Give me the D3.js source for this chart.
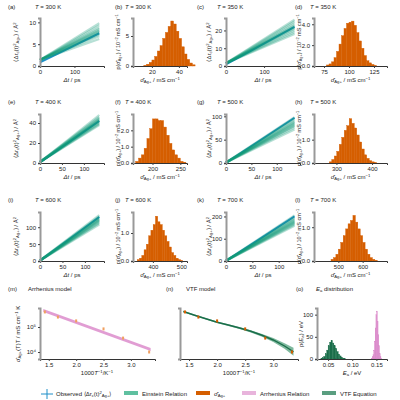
<!DOCTYPE html><html><head><meta charset="utf-8">
<script src="https://cdn.jsdelivr.net/npm/d3@7"></script>
<style>body{margin:0;background:#fff}text{font-family:"Liberation Sans",Arial,sans-serif}</style></head><body>
<svg id="c" width="400" height="400"></svg>
<script>
// ---- data ----
const temps = [300,350,400,500,600,700];
const msdTmax = [172,180,135,135,132,130];
const msdStart = [1.4,1.6,1.0,1.0,1.5,1.5];
const msdEnds = [
 [6.2,6.8,7.2,7.5,7.8,8.0,8.2,8.5,8.8,9.3,9.8],
 [18,19,20,21,21.5,22,22.5,23,24,25,26],
 [38,39,40,41,42,42.5,43,44,45,46,48],
 [72,76,79,81,83,85,87,89,92,95,98],
 [108,112,115,118,120,122,124,126,129,132,136],
 [158,164,168,172,175,178,182,186,190,195,205]];
const msdObs = [7.5,22,42,97,130,200];
const msdY = [[0,11],[0,27],[0,49],[0,105],[0,145],[0,220]];
const msdYticks = [[0,5,10],[0,10,20],[0,20,40],[0,50,100],[0,50,100],[0,100,200]];
const msdXticks = [[0,100],[0,100],[0,50,100],[0,50,100],[0,50,100],[0,50,100]];
const histStart = [14,77.5,170,280,345,470];
const histWidth = [2,2.5,5,7,8,10];
const histCounts = [
 [0.1,0.3,0.6,1.0,1.6,2.5,3.4,4.6,5.6,6.6,7.5,7.0,5.8,4.6,3.2,2.0,1.1,0.5,0.2],
 [0.1,0.2,0.4,0.8,1.4,2.1,2.9,3.6,4.1,4.2,4.3,3.9,3.2,2.4,1.7,1.0,0.5,0.3,0.15,0.05],
 [0.1,0.3,0.5,0.9,1.5,2.1,2.7,2.7,2.6,2.6,2.2,1.7,1.2,0.8,0.5,0.3,0.1,0.05],
 [0.05,0.15,0.3,0.5,0.8,1.1,1.4,1.6,1.9,1.7,1.5,1.2,0.9,0.6,0.35,0.2,0.1,0.05,0.02],
 [0.05,0.1,0.2,0.4,0.6,0.9,1.1,1.3,1.6,1.4,1.3,1.1,0.9,0.7,0.5,0.3,0.2,0.1,0.05,0.02],
 [0.05,0.1,0.2,0.35,0.55,0.75,0.95,1.1,1.2,1.35,1.15,0.95,0.75,0.55,0.35,0.2,0.1,0.05,0.02]];
const histX = [[6,46],[65,138],[165,262],[237,442],[330,520],[400,700]];
const histY = [[0,8],[0,4.6],[0,3.0],[0,2.1],[0,1.75],[0,1.45]];
const histXticks = [[20,40],[75,100,125],[200,250],[300,400],[400,500],[500,600]];
const histYticks = [[0,5],[0,2,4],[0,1,2],[0,1],[0,1],[0,1]];
const invT = [1.4286,1.6667,2.0,2.5,2.857,3.333];
const sigmaT = [4.0e5,2.5e5,1.75e5,8.4e4,3.6e4,1.0e4];
const arrX = [1.40,3.36];
const arrLogY = [5.66,4.10];
const vtfX = [1.40,1.6,1.8,2.0,2.2,2.4,2.6,2.8,3.0,3.2,3.36];
const vtfLogY = [5.62,5.47,5.33,5.19,5.08,4.96,4.83,4.67,4.48,4.24,4.01];
const vtfHalf = [0.03,0.03,0.03,0.03,0.035,0.04,0.045,0.055,0.08,0.11,0.16];
const eaGreenStart = 0.035, eaGreenW = 0.003;
const eaGreen = [1,3,6,12,20,30,38,42,36,30,24,17,11,7,4,2,1];
const eaPinkStart = 0.140, eaPinkW = 0.0015;
const eaPink = [2,5,10,20,40,70,100,108,85,55,30,12,5,2];
const labels = "abcdefghijkl".split("");

// ---- drawing ----
const svg = d3.select("#c");
const FS = 6;
const teal="#119a78", blue="#1f8fc8", orange="#d55e00", pink="#d985c8", dgreen="#1a6e4a";
function rich(g,x,y,parts,opts={}){
  const fs=opts.fs||FS;
  const t=g.append("text").attr("x",x).attr("y",y).attr("font-size",fs).attr("fill","#222");
  if(opts.rot) t.attr("transform",`rotate(-90,${x},${y})`);
  if(opts.anchor) t.attr("text-anchor",opts.anchor);
  parts.forEach(p=>{ if(typeof p==="string") t.append("tspan").text(p);
    else { const s=t.append("tspan").text(p.t).attr("font-size",fs*0.7);
      if(p.sub) s.attr("baseline-shift","-25%"); if(p.sup) s.attr("baseline-shift","40%");
      if(p.it) s.attr("font-style","italic").attr("font-size",fs);} });
  return t;
}
function axes(g,x,y,xt,yt,fmtX,fmtY){
  const xa=g.append("g").attr("transform",`translate(0,${y.range()[0]})`).call(d3.axisBottom(x).tickValues(xt).tickSize(2).tickPadding(2).tickFormat(fmtX||null));
  const ya=g.append("g").attr("transform",`translate(${x.range()[0]},0)`).call(d3.axisLeft(y).tickValues(yt).tickSize(2).tickPadding(2).tickFormat(fmtY||null));
  [xa,ya].forEach(a=>{a.selectAll("text").attr("font-size",FS).attr("fill","#222").attr("font-family","Liberation Sans");a.selectAll("line").attr("stroke","#444");});
  xa.select(".domain").attr("stroke","#333");
  ya.select(".domain").attr("stroke","#999").attr("stroke-width",2);
}
const colX=[[40,104],[133,187],[226,300],[314,387]];
const rowY=[[18,66],[114,163],[212,261]];
const colLab=[8,115,197,295], colT=[35,125,217,310];
const rowTitleY=[9,104,202];
const colYl=[18,120,211,301];
for(let k=0;k<6;k++){
  const r=Math.floor(k/2), cm=(k%2)*2, ch=cm+1;
  [[cm,labels[2*k]],[ch,labels[2*k+1]]].forEach(([c,l])=>{
    svg.append("text").attr("x",colLab[c]).attr("y",rowTitleY[r]).attr("font-size",FS).attr("fill","#222").text(`(${l})`);
    rich(svg,colT[c],rowTitleY[r],[{t:"T",it:true}," = "+temps[k]+" K"]);
  });
  const x=d3.scaleLinear().domain([0,msdTmax[k]*1.08]).range(colX[cm]);
  const y=d3.scaleLinear().domain(msdY[k]).range([rowY[r][1],rowY[r][0]]);
  const g=svg.append("g");
  g.append("line").attr("x1",x(0)).attr("y1",y(msdStart[k]*0.6)).attr("x2",x(msdTmax[k])).attr("y2",y(msdObs[k])).attr("stroke",blue).attr("stroke-width",2);
  msdEnds[k].forEach(e=>g.append("line").attr("x1",x(0)).attr("y1",y(msdStart[k])).attr("x2",x(msdTmax[k])).attr("y2",y(e)).attr("stroke",teal).attr("stroke-width",2.2).attr("opacity",0.3));
  axes(g,x,y,msdXticks[k],msdYticks[k]);
  rich(g,(colX[cm][0]+colX[cm][1])/2,rowY[r][1]+16,[{t:"Δt",it:true}," / ps"],{anchor:"middle"});
  rich(g,colYl[cm],(rowY[r][0]+rowY[r][1])/2,["⟨Δr",{t:"c",sub:true},"(t)",{t:"2",sup:true},{t:"Ag+",sub:true},"⟩ / Å",{t:"2",sup:true}],{rot:true,anchor:"middle"});
  const hx=d3.scaleLinear().domain(histX[k]).range(colX[ch]);
  const hy=d3.scaleLinear().domain(histY[k]).range([rowY[r][1],rowY[r][0]]);
  const h=svg.append("g");
  histCounts[k].forEach((v,i)=>{const x0=histStart[k]+i*histWidth[k];
    h.append("rect").attr("x",hx(x0)).attr("width",hx(x0+histWidth[k])-hx(x0)).attr("y",hy(v)).attr("height",hy(0)-hy(v)).attr("fill",orange).attr("stroke",orange).attr("stroke-width",0.4);});
  axes(h,hx,hy,histXticks[k],histYticks[k]);
  rich(h,(colX[ch][0]+colX[ch][1])/2,rowY[r][1]+16,["σ̂",{t:"Ag+",sub:true}," / mS cm",{t:"−1",sup:true}],{anchor:"middle"});
  rich(h,colYl[ch],(rowY[r][0]+rowY[r][1])/2,["p(σ̂",{t:"Ag+",sub:true},") / 10",{t:"−2",sup:true}," mS cm",{t:"−1",sup:true}],{rot:true,anchor:"middle",fs:5.5});
}
const by=[308,359];
const lx=d3.scaleLinear().domain([1.34,3.44]);
const ly=d3.scaleLinear().domain([3.72,5.76]).range([by[1],by[0]]);
function bottom(title,lab,labx){
  svg.append("text").attr("x",labx).attr("y",291).attr("font-size",FS).attr("fill","#222").text(lab);
  rich(svg,labx+20,291,title);
}
const f1=d=>d.toFixed(1);
{const x=lx.copy().range([40,155]); const g=svg.append("g");
 bottom(["Arrhenius model"],"(m)",8);
 const band=d3.area().x(d=>x(d[0])).y0(d=>ly(d[1]-0.06)).y1(d=>ly(d[1]+0.06));
 g.append("path").datum(arrX.map((v,i)=>[v,arrLogY[i]])).attr("d",band).attr("fill",pink).attr("opacity",0.8);
 invT.forEach((v,i)=>g.append("rect").attr("x",x(v)-1).attr("y",ly(Math.log10(sigmaT[i]))-1.5).attr("width",2).attr("height",3).attr("fill","#f0a060"));
 axes(g,x,ly,[1.5,2.0,2.5,3.0],[4,5],f1,d=>"10"+(d==4?"⁴":"⁵"));
 rich(g,97,375,["1000",{t:"T",it:true},{t:"−1",sup:true},"/K",{t:"−1",sup:true}],{anchor:"middle"});
 rich(g,20,334,["σ̂",{t:"Ag+",sub:true},"(T)T / mS cm",{t:"−1",sup:true}," K"],{rot:true,anchor:"middle"});}
{const x=lx.copy().range([180,298]); const g=svg.append("g");
 bottom(["VTF model"],"(n)",166);
 const band=d3.area().x(d=>x(d)).y0((d,i)=>ly(vtfLogY[i]-vtfHalf[i])).y1((d,i)=>ly(vtfLogY[i]+vtfHalf[i]));
 g.append("path").datum(vtfX).attr("d",band).attr("fill","#2a8a5e").attr("opacity",0.6);
 g.append("path").datum(vtfX).attr("d",d3.line().x(d=>x(d)).y((d,i)=>ly(vtfLogY[i]))).attr("fill","none").attr("stroke",dgreen).attr("stroke-width",1.4);
 invT.forEach((v,i)=>g.append("rect").attr("x",x(v)-1).attr("y",ly(Math.log10(sigmaT[i]))-1.5).attr("width",2).attr("height",3).attr("fill",orange));
 axes(g,x,ly,[1.5,2.0,2.5,3.0],[],f1);
 rich(g,239,375,["1000",{t:"T",it:true},{t:"−1",sup:true},"/K",{t:"−1",sup:true}],{anchor:"middle"});}
{const x=d3.scaleLinear().domain([0.027,0.172]).range([317,387]);
 const y=d3.scaleLinear().domain([0,115]).range([by[1],by[0]]); const g=svg.append("g");
 bottom([{t:"E",it:true},{t:"a",sub:true}," distribution"],"(o)",296);
 eaGreen.forEach((v,i)=>{const a=eaGreenStart+i*eaGreenW;g.append("rect").attr("x",x(a)).attr("width",x(a+eaGreenW)-x(a)).attr("y",y(v)).attr("height",y(0)-y(v)).attr("fill",dgreen).attr("stroke",dgreen).attr("stroke-width",0.3);});
 eaPink.forEach((v,i)=>{const a=eaPinkStart+i*eaPinkW;g.append("rect").attr("x",x(a)).attr("width",x(a+eaPinkW)-x(a)).attr("y",y(v)).attr("height",y(0)-y(v)).attr("fill",pink).attr("stroke",pink).attr("stroke-width",0.3);});
 axes(g,x,y,[0.05,0.10,0.15],[0,50,100],d=>d.toFixed(2));
 rich(g,352,375,[{t:"E",it:true},{t:"a",sub:true}," / eV"],{anchor:"middle"});
 rich(g,303,334,["p(",{t:"E",it:true},{t:"a",sub:true},") / eV"],{rot:true,anchor:"middle"});}
const L=svg.append("g"); const ly0=396;
L.append("line").attr("x1",41).attr("x2",53).attr("y1",ly0-2).attr("y2",ly0-2).attr("stroke",blue);
L.append("line").attr("x1",47).attr("x2",47).attr("y1",ly0-7).attr("y2",ly0+3).attr("stroke",blue);
rich(L,56,ly0,["Observed ⟨Δr",{t:"c",sub:true},"(t)",{t:"2",sup:true},{t:"Ag+",sub:true},"⟩"]);
[[124,"#5fc0a0",["Einstein Relation"]],[196,orange,["σ̂",{t:"Ag+",sub:true}]],[242,"#e8b4dc",["Arrhenius Relation"]],[322,"#5a9e80",["VTF Equation"]]].forEach(([x,c,t])=>{
 L.append("rect").attr("x",x).attr("y",ly0-5).attr("width",14).attr("height",4).attr("fill",c);
 rich(L,x+18,ly0,t);});
</script></body></html>
